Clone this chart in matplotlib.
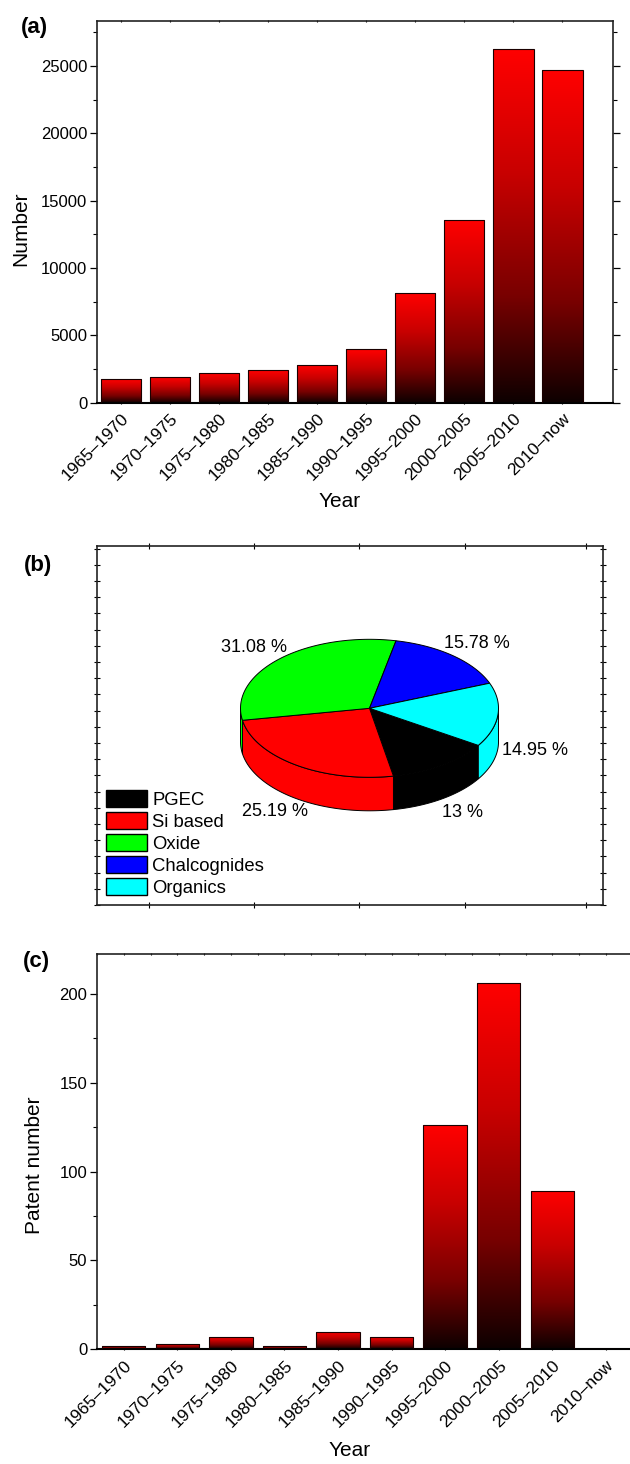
import numpy as np
import matplotlib
matplotlib.use("Agg")
import matplotlib.pyplot as plt
from matplotlib.colors import LinearSegmentedColormap
from matplotlib.patches import Polygon, Patch
from matplotlib.ticker import MultipleLocator

plt.rcParams['font.family'] = ['Liberation Sans', 'DejaVu Sans']

periods = ["1965–1970", "1970–1975", "1975–1980", "1980–1985", "1985–1990",
           "1990–1995", "1995–2000", "2000–2005", "2005–2010", "2010–now"]
papers = [1730, 1930, 2180, 2420, 2820, 3960, 8110, 13600, 26260, 24730]
patents = [2, 3, 7, 2, 10, 7, 126, 206, 89, 0]

materials = ["PGEC", "Si based", "Oxide", "Chalcognides", "Organics"]
shares = [13, 25.19, 31.08, 15.78, 14.95]
share_colors = ["#000000", "#ff0000", "#00ff00", "#0000ff", "#00ffff"]

W, H = 630, 1464
fig = plt.figure(figsize=(W / 100, H / 100), dpi=100)


def px_axes(left, top, right, bottom):
    return fig.add_axes([left / W, 1 - bottom / H, (right - left) / W, (bottom - top) / H])


bar_cmap = LinearSegmentedColormap.from_list(
    "redblack", [(0, "#0d0000"), (0.3, "#780000"), (0.65, "#c80000"), (1, "#ff0000")])
grad = np.linspace(0, 1, 256).reshape(-1, 1)


def gradient_bars(ax, values, width):
    x = np.arange(len(values))
    bars = ax.bar(x, values, width, facecolor="none", edgecolor="#1a0000",
                  linewidth=0.8, zorder=3)
    for bar in bars:
        h = bar.get_height()
        if h <= 0:
            continue
        x0 = bar.get_x()
        im = ax.imshow(grad, extent=[x0, x0 + bar.get_width(), 0, h], origin="lower",
                       aspect="auto", cmap=bar_cmap, zorder=2)
        im.set_clip_path(bar)


def style_bar_axes(ax):
    for s in ax.spines.values():
        s.set_linewidth(1.2)
        s.set_color("#222222")
    ax.spines["bottom"].set_color("black")
    ax.spines["bottom"].set_linewidth(1.5)
    ax.set_xticks(range(len(periods)))
    ax.set_xticklabels(periods, rotation=45, ha="right", va="top",
                       rotation_mode="anchor", fontsize=12.5)
    ax.tick_params(axis="x", which="major", length=2, pad=5, top=True,
                   direction="inout", width=0.8)
    ax.tick_params(axis="y", which="major", length=5, width=0.9, labelsize=12,
                   direction="out", right=True, pad=2)
    ax.tick_params(axis="y", which="minor", length=3, width=0.8,
                   direction="out", right=True)


# (a) publications per period
ax1 = px_axes(97, 21, 613, 402.7)
gradient_bars(ax1, papers, 0.82)
ax1.set_xlim(-0.49, 10.03)
ax1.set_ylim(0, 28340)
ax1.yaxis.set_major_locator(MultipleLocator(5000))
ax1.yaxis.set_minor_locator(MultipleLocator(2500))
style_bar_axes(ax1)
ax1.set_ylabel("Number", fontsize=15, va="center")
ax1.yaxis.set_label_coords(-0.147, 0.455)
ax1.set_xlabel("Year", fontsize=15, va="center")
ax1.xaxis.set_label_coords(0.471, -0.258)

# (b) 3D pie of material classes
ax2 = px_axes(97, 545.5, 603, 905)
ax2.set_xlim(0, 506)
ax2.set_ylim(0, 359.5)
for s in ax2.spines.values():
    s.set_linewidth(1.2)
    s.set_color("#222222")
ax2.set_xticks([52, 157, 262, 368, 489])
ax2.set_yticks(np.arange(0, 359.5, 16.2))
ax2.tick_params(which="both", direction="inout", length=4, width=0.8,
                top=True, right=True, labelleft=False, labelbottom=False)

cx, cy, ra, rb, depth = 272.5, 196.7, 129, 69, 33.5
spans = np.array(shares) / sum(shares) * 360
starts = -32.5 - np.concatenate([[0], np.cumsum(spans)[:-1]])
ends = starts - spans


def arc(t0, t1, dy=0.0, n=80):
    t = np.radians(np.linspace(t0, t1, n))
    return np.column_stack([cx + ra * np.cos(t), cy + dy + rb * np.sin(t)])


# side walls of the front half
for t_hi, t_lo, c in zip(starts, ends, share_colors):
    for k in range(-2, 2):
        lo = max(t_lo, k * 360 - 180)
        hi = min(t_hi, k * 360)
        if hi > lo:
            pts = np.vstack([arc(lo, hi), arc(hi, lo, -depth)])
            ax2.add_patch(Polygon(pts, closed=True, facecolor=c, edgecolor="black",
                                  linewidth=0.7, zorder=2))
# top face
for t_hi, t_lo, c in zip(starts, ends, share_colors):
    pts = np.vstack([[cx, cy], arc(t_lo, t_hi)])
    ax2.add_patch(Polygon(pts, closed=True, facecolor=c, edgecolor="black",
                          linewidth=0.7, zorder=3))
# percentage labels
for t_hi, t_lo, v in zip(starts, ends, shares):
    mid = np.radians((t_hi + t_lo) / 2)
    lx = cx + 166 * np.cos(mid)
    ly = cy + 85 * np.sin(mid) - (depth if np.sin(mid) < 0 else 0)
    ax2.text(lx, ly, f"{v:g} %", fontsize=13, ha="center", va="center", zorder=4)

handles = [Patch(facecolor=c, edgecolor="black", linewidth=1.0) for c in share_colors]
ax2.legend(handles, materials, loc="lower left", bbox_to_anchor=(0.017, 0.022),
           frameon=False, fontsize=13.3, handlelength=2.24, handleheight=1.04,
           handletextpad=0.29, labelspacing=0.18, borderpad=0, borderaxespad=0)

# (c) patents per period
ax3 = px_axes(97, 954.3, 630, 1349.3)
gradient_bars(ax3, patents, 0.81)
ax3.set_xlim(-0.5, 9.45)
ax3.set_ylim(0, 222.3)
ax3.yaxis.set_major_locator(MultipleLocator(50))
ax3.yaxis.set_minor_locator(MultipleLocator(25))
style_bar_axes(ax3)
ax3.spines["right"].set_visible(False)
ax3.tick_params(axis="y", which="both", right=False)
ax3.xaxis.set_minor_locator(MultipleLocator(0.5))
ax3.tick_params(axis="x", which="minor", bottom=False, top=True, length=2,
                direction="inout", width=0.8)
ax3.set_ylabel("Patent number", fontsize=15, va="center")
ax3.yaxis.set_label_coords(-0.118, 0.467)
ax3.set_xlabel("Year", fontsize=15, va="center")
ax3.xaxis.set_label_coords(0.473, -0.255)

for label, (px, py) in zip(["(a)", "(b)", "(c)"], [(34, 28), (38, 566), (36, 961)]):
    fig.text(px / W, 1 - py / H, label, fontsize=16, fontweight="bold",
             ha="center", va="center")

fig.savefig("out.png", dpi=100)
